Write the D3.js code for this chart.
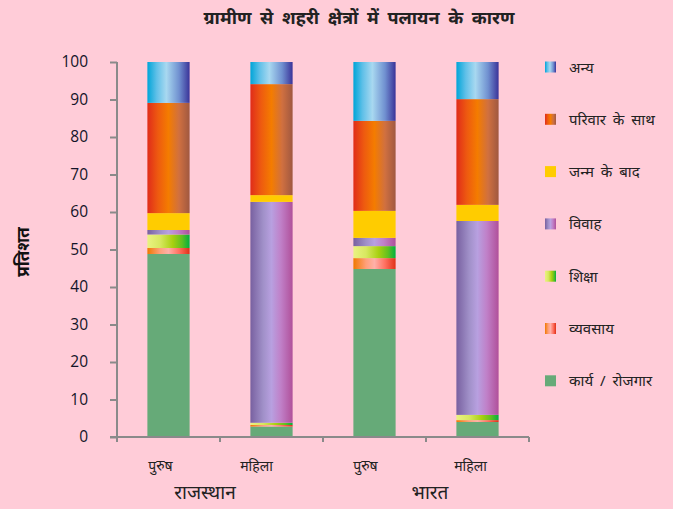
<!DOCTYPE html>
<html><head><meta charset="utf-8">
<script src="https://cdn.jsdelivr.net/npm/d3@7"></script>
<style>
html,body{margin:0;padding:0;background:#FFCCD8;}
svg{display:block;}
text{font-family:"Noto Sans","Lato",sans-serif;}
</style></head><body>
<svg id="chart" width="673" height="509"></svg>
<script>
// ---- data ----
const categories = ["पुरुष","महिला","पुरुष","महिला"];
const groups = ["राजस्थान","भारत"];
const seriesNames = ["कार्य / रोजगार","व्यवसाय","शिक्षा","विवाह","जन्म के बाद","परिवार के साथ","अन्य"];
const work      = [48.8, 2.8, 44.8, 4.0];
const business  = [1.6, 0.4, 2.9, 0.5];
const education = [3.6, 0.6, 3.2, 1.4];
const marriage  = [1.2, 58.9, 2.2, 51.7];
const afterBirth= [4.5, 1.8, 7.2, 4.3];
const family    = [29.4, 29.6, 24.0, 28.2];
const other     = [10.9, 5.9, 15.7, 9.9];
const yTicks = [0,10,20,30,40,50,60,70,80,90,100];

const seriesValues = [work,business,education,marriage,afterBirth,family,other];
const gradStops = [
  [["0%","#66AA78"],["100%","#66AA78"]],
  [["0%","#F07800"],["30%","#FFA07A"],["50%","#FFB0A8"],["75%","#FF7060"],["100%","#E03018"]],
  [["0%","#EAF282"],["30%","#D8E860"],["60%","#A8D010"],["82%","#60C020"],["100%","#00B040"]],
  [["0%","#7860A0"],["30%","#A090C8"],["50%","#B8A0E0"],["72%","#C080C8"],["100%","#B0509A"]],
  [["0%","#FFCC00"],["100%","#FFCC00"]],
  [["0%","#E02C1A"],["25%","#EE5A10"],["50%","#F47C00"],["75%","#D07040"],["100%","#A05840"]],
  [["0%","#00A5D8"],["22%","#60C0E8"],["45%","#A8D8F0"],["75%","#7090D0"],["100%","#3A3399"]]
];

const svg = d3.select("#chart");
const defs = svg.append("defs");
gradStops.forEach((st,i)=>{
  const g = defs.append("linearGradient").attr("id","g"+i).attr("x1","0").attr("x2","1").attr("y1","0").attr("y2","0");
  st.forEach(s=>g.append("stop").attr("offset",s[0]).attr("stop-color",s[1]));
});

const x0 = 117, x1 = 529, yTop = 62, yBot = 437;
const x = d3.scaleBand().domain(d3.range(categories.length)).range([x0,x1]).paddingInner(0.59).paddingOuter(0.295);
const y = d3.scaleLinear().domain([0,100]).range([yBot,yTop]);

// stack
const table = categories.map((c,i)=>{const o={i}; seriesNames.forEach((s,k)=>o[s]=seriesValues[k][i]); return o;});
const stacked = d3.stack().keys(seriesNames)(table);

const layers = svg.append("g").selectAll("g").data(stacked).join("g")
  .attr("fill",(d,k)=>"url(#g"+k+")");
layers.selectAll("rect").data(d=>d).join("rect")
  .attr("x",d=>x(d.data.i)).attr("width",x.bandwidth())
  .attr("y",d=>y(d[1])).attr("height",d=>y(d[0])-y(d[1]));

// y axis
const axisColor = "#8a8a8a";
const yAxis = svg.append("g").attr("transform",`translate(${x0},0)`)
  .call(d3.axisLeft(y).tickValues(yTicks).tickSize(7).tickPadding(22));
yAxis.select(".domain").remove();
yAxis.append("line").attr("x1",0).attr("x2",0).attr("y1",yTop).attr("y2",yBot+5).attr("stroke",axisColor).attr("stroke-width",2);
yAxis.selectAll(".tick line").attr("stroke",axisColor).attr("stroke-width",2);
yAxis.selectAll(".tick text").attr("fill","#141428").style("font-family","'Open Sans',sans-serif").style("font-size","15.5px").style("font-weight","500");

// x axis
const xa = svg.append("g");
xa.append("line").attr("x1",x0-7).attr("x2",x1).attr("y1",yBot).attr("y2",yBot).attr("stroke",axisColor).attr("stroke-width",2);
const bounds = d3.range(categories.length+1).map(i=> i<categories.length ? x(i)-x.step()*x.paddingOuter() : x1);
xa.selectAll("line.tk").data(bounds).join("line").attr("class","tk")
  .attr("x1",d=>d).attr("x2",d=>d).attr("y1",yBot).attr("y2",yBot+5).attr("stroke",axisColor).attr("stroke-width",2);

const catOffsets = [-8,-15,-9,-7];
xa.selectAll("text.cat").data(categories).join("text").attr("class","cat")
  .attr("x",(d,i)=>x(i)+x.bandwidth()/2+catOffsets[i]).attr("y",471)
  .attr("text-anchor","middle").attr("fill","#222").style("font-size","14px").text(d=>d);
const groupOffsets = [-15, 4];
xa.selectAll("text.grp").data(groups).join("text").attr("class","grp")
  .attr("x",(d,g)=>(x(2*g)+x(2*g+1)+x.bandwidth())/2+groupOffsets[g]).attr("y",499)
  .attr("text-anchor","middle").attr("fill","#222").style("font-size","19px").text(d=>d);

// y title
svg.append("text").attr("transform","translate(29,252) rotate(-90)").attr("text-anchor","middle")
  .attr("fill","#111").style("font-size","17px").style("font-weight","bold").text("प्रतिशत");

// title
svg.append("text").attr("x",359).attr("y",24).attr("text-anchor","middle").attr("fill","#222")
  .style("font-size","18px").style("font-weight","bold").style("word-spacing","4px")
  .text("ग्रामीण से शहरी क्षेत्रों में पलायन के कारण");

// legend
const legendOrder = d3.range(seriesNames.length).reverse();
const leg = svg.append("g").selectAll("g").data(legendOrder).join("g")
  .attr("transform",(k,j)=>`translate(545,${67 + j*52.3})`);
leg.append("rect").attr("x",0).attr("y",-5.5).attr("width",11).attr("height",11).attr("fill",k=>"url(#g"+k+")");
leg.append("text").attr("x",24).attr("y",5.5).attr("fill","#222").style("font-size","15px").style("word-spacing","3px").text(k=>seriesNames[k]);
</script>
</body></html>
